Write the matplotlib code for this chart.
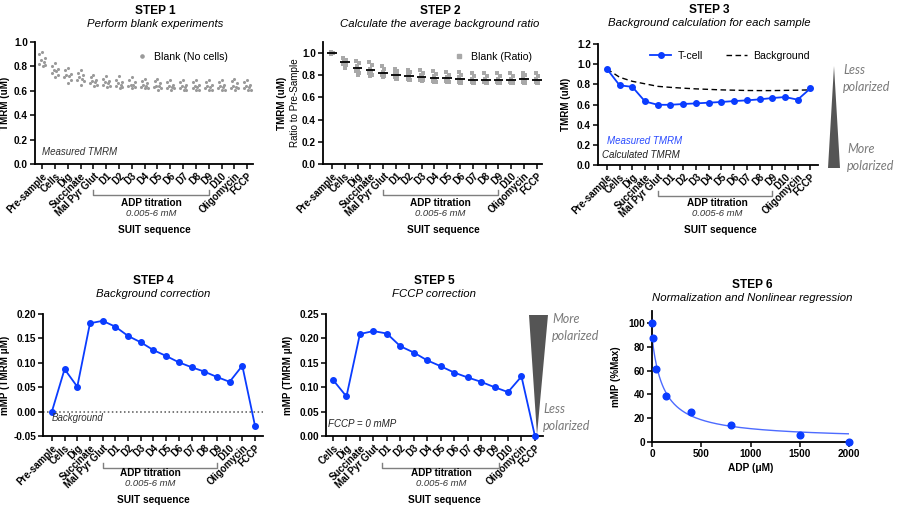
import matplotlib
matplotlib.use('Agg')
import matplotlib.pyplot as plt
import matplotlib.transforms as mtransforms
from matplotlib.patches import Polygon
from matplotlib.lines import Line2D
import numpy as np

plt.rcParams['font.family'] = ['Liberation Sans', 'DejaVu Sans']
plt.rcParams['axes.linewidth'] = 1.3

W, H = 900, 505

suit_full = ['Pre-sample', 'Cells', 'Dig', 'Succinate', 'Mal Pyr Glut',
             'D1', 'D2', 'D3', 'D4', 'D5', 'D6', 'D7', 'D8', 'D9', 'D10',
             'Oligomycin', 'FCCP']
suit_no_pre = suit_full[1:]

# step 1: blank wells, TMRM (uM), one list per SUIT step
blank_tmrm = [
    [0.92, 0.90, 0.87, 0.85, 0.84, 0.82, 0.81, 0.80],
    [0.83, 0.80, 0.78, 0.77, 0.76, 0.75, 0.73, 0.71],
    [0.79, 0.77, 0.74, 0.73, 0.72, 0.71, 0.69, 0.66],
    [0.77, 0.75, 0.73, 0.71, 0.70, 0.69, 0.68, 0.65],
    [0.73, 0.71, 0.69, 0.68, 0.67, 0.66, 0.65, 0.64],
    [0.72, 0.70, 0.68, 0.67, 0.66, 0.65, 0.64, 0.63],
    [0.72, 0.69, 0.67, 0.66, 0.65, 0.64, 0.63, 0.62],
    [0.71, 0.69, 0.67, 0.65, 0.65, 0.64, 0.63, 0.62],
    [0.70, 0.68, 0.66, 0.65, 0.64, 0.63, 0.62, 0.62],
    [0.70, 0.68, 0.66, 0.64, 0.64, 0.63, 0.62, 0.61],
    [0.69, 0.67, 0.65, 0.64, 0.63, 0.62, 0.62, 0.61],
    [0.69, 0.67, 0.65, 0.64, 0.63, 0.62, 0.61, 0.61],
    [0.69, 0.67, 0.65, 0.64, 0.63, 0.62, 0.61, 0.61],
    [0.69, 0.67, 0.65, 0.64, 0.63, 0.62, 0.61, 0.61],
    [0.69, 0.67, 0.65, 0.64, 0.63, 0.62, 0.61, 0.61],
    [0.70, 0.68, 0.66, 0.64, 0.63, 0.62, 0.62, 0.61],
    [0.69, 0.67, 0.65, 0.64, 0.63, 0.62, 0.61, 0.61],
]

# step 2: blank ratio to pre-sample
blank_ratio = [
    [1.01, 1.00, 1.00, 1.00, 0.99, 1.00, 1.00],
    [0.96, 0.94, 0.93, 0.92, 0.90, 0.89, 0.87],
    [0.93, 0.91, 0.88, 0.86, 0.84, 0.82, 0.80],
    [0.92, 0.89, 0.86, 0.84, 0.82, 0.80, 0.79],
    [0.88, 0.86, 0.83, 0.81, 0.80, 0.79, 0.78],
    [0.86, 0.84, 0.82, 0.80, 0.78, 0.77, 0.77],
    [0.85, 0.83, 0.81, 0.79, 0.77, 0.76, 0.76],
    [0.85, 0.82, 0.80, 0.78, 0.76, 0.76, 0.75],
    [0.84, 0.81, 0.79, 0.77, 0.75, 0.74, 0.74],
    [0.83, 0.80, 0.78, 0.76, 0.75, 0.74, 0.74],
    [0.83, 0.80, 0.78, 0.76, 0.74, 0.73, 0.73],
    [0.82, 0.79, 0.77, 0.75, 0.74, 0.73, 0.73],
    [0.82, 0.79, 0.77, 0.75, 0.74, 0.73, 0.73],
    [0.82, 0.79, 0.77, 0.75, 0.74, 0.73, 0.73],
    [0.82, 0.79, 0.77, 0.75, 0.74, 0.73, 0.73],
    [0.82, 0.80, 0.78, 0.76, 0.74, 0.73, 0.73],
    [0.82, 0.79, 0.77, 0.75, 0.74, 0.73, 0.73],
]

# step 3
tcell_tmrm = [0.953, 0.79, 0.775, 0.63, 0.597, 0.597, 0.605, 0.611, 0.618,
              0.625, 0.634, 0.641, 0.651, 0.664, 0.674, 0.648, 0.759]
background_tmrm = [0.953, 0.87, 0.83, 0.805, 0.78, 0.77, 0.762, 0.755, 0.75,
                   0.745, 0.742, 0.739, 0.738, 0.738, 0.74, 0.742, 0.745]

# step 4 / step 5
mmp_background = [0.0, 0.087, 0.051, 0.181, 0.186, 0.174, 0.155, 0.142, 0.126,
                  0.114, 0.101, 0.091, 0.082, 0.071, 0.061, 0.094, -0.029]
mmp_fccp = [0.115, 0.081, 0.209, 0.215, 0.210, 0.184, 0.171, 0.155, 0.143,
            0.130, 0.120, 0.111, 0.100, 0.090, 0.122, 0.0]

# step 6
adp_um = [0, 10, 45, 145, 400, 800, 1500, 2000]
mmp_pct_max = [100, 87, 61, 39, 25, 14, 5.5, 0]
fit_bottom, fit_top, fit_ic50 = 2.0, 88.0, 120.0

BLUE = '#0a3cff'
fig = plt.figure(figsize=(9, 5.05), dpi=100)


def add_ax(left, top, right, bottom):
    return fig.add_axes([left / W, 1 - bottom / H, (right - left) / W, (bottom - top) / H])


def ftext(x, y, s, **kw):
    kw.setdefault('ha', 'center')
    kw.setdefault('va', 'center')
    fig.text(x / W, 1 - y / H, s, **kw)


def style(ax, yticks, fmt):
    for s in ['top', 'right']:
        ax.spines[s].set_visible(False)
    ax.tick_params(direction='out', length=3.5, width=1.1, labelsize=7.2, pad=1.5)
    ax.set_yticks(yticks)
    ax.set_yticklabels([fmt % v for v in yticks], fontweight='bold')


def suit_axis(ax, labels):
    ax.set_xticks(range(len(labels)))
    ax.set_xticklabels(labels, rotation=45, ha='right', va='top',
                       rotation_mode='anchor', fontweight='bold', fontsize=6.9)


def bracket(ax, x0, x1, y, dy):
    tr = mtransforms.blended_transform_factory(ax.transData, ax.transAxes)
    ax.add_line(Line2D([x0, x0, x1, x1], [y + dy, y, y, y + dy], transform=tr,
                       color='#7f7f7f', lw=1.0, clip_on=False))


def title(x, y, t, sub):
    ftext(x, y, t, fontsize=8.6, fontweight='bold')
    ftext(x, y + 13, sub, fontsize=8.2, style='italic')


def suit_labels(xc, y):
    ftext(xc, y, 'ADP titration', fontsize=7.2, fontweight='bold')
    ftext(xc, y + 11, '0.005-6 mM', fontsize=6.8, style='italic', color='#333333')
    ftext(xc + 3, y + 27, 'SUIT sequence', fontsize=7.3, fontweight='bold')


def triangle(pts, color='#555555'):
    p = [(x / W, 1 - y / H) for x, y in pts]
    fig.add_artist(Polygon(p, closed=True, transform=fig.transFigure,
                           facecolor=color, edgecolor='none'))


tri_font = dict(family=['Lato', 'DejaVu Sans'], style='italic', fontsize=9,
                color='#7a7a7a', ha='left')

# ---------------- STEP 1
ax1 = add_ax(35, 42, 253, 164)
swarm = [0.0, -0.22, 0.22, -0.1, 0.12, -0.26, 0.26, 0.04]
for i, vals in enumerate(blank_tmrm):
    xs = [i + swarm[j % len(swarm)] for j in range(len(vals))]
    ax1.scatter(xs, vals, s=5, color='#9a9a9a', linewidths=0, zorder=3)
ax1.set_xlim(-0.55, 16.45)
ax1.set_ylim(0, 1.0)
style(ax1, np.arange(0, 1.01, 0.2), '%.1f')
suit_axis(ax1, suit_full)
ax1.set_ylabel('TMRM (uM)', fontsize=7.1, fontweight='bold')
ax1.yaxis.set_label_coords((10 - 35) / 218, 0.5)
ax1.legend(handles=[Line2D([], [], ls='none', marker='o', ms=2.3, color='#9a9a9a',
                           label='Blank (No cells)')],
           loc='upper right', bbox_to_anchor=(0.93, 1.0), frameon=False,
           fontsize=7.6, handletextpad=0.6, handlelength=1.2)
ax1.text(0.03, 0.07, 'Measured TMRM', transform=ax1.transAxes, fontsize=7,
         style='italic', color='#333333')
bracket(ax1, 4, 13, -0.254, 0.04)
title(155, 11, 'STEP 1', 'Perform blank experiments')
suit_labels(151, 203)

# ---------------- STEP 2
ax2 = add_ax(323, 42, 542, 164)
jit = [-0.1, 0.1, -0.05, 0.05, -0.1, 0.1, 0.0]
for i, vals in enumerate(blank_ratio):
    xs = [i + jit[j % len(jit)] for j in range(len(vals))]
    ax2.scatter(xs, vals, s=9, marker='s', color='#a8a8a8', linewidths=0, zorder=2)
    m = np.mean(vals)
    ax2.hlines(m, i - 0.38, i + 0.38, color='black', lw=1.3, zorder=3)
ax2.set_xlim(-0.7, 16.4)
ax2.set_ylim(0, 1.1)
style(ax2, np.arange(0, 1.01, 0.2), '%.1f')
suit_axis(ax2, suit_full)
ftext(282, 103, 'TMRM (uM)', rotation=90, fontsize=7.1, fontweight='bold')
ftext(295, 103, 'Ratio to Pre-Sample', rotation=90, fontsize=7.1)
ax2.legend(handles=[Line2D([], [], ls='none', marker='s', ms=3.2, color='#a8a8a8',
                           label='Blank (Ratio)')],
           loc='upper right', bbox_to_anchor=(1.0, 1.0), frameon=False,
           fontsize=7.6, handletextpad=0.6, handlelength=1.2)
bracket(ax2, 4, 13, -0.254, 0.04)
title(440, 11, 'STEP 2', 'Calculate the average background ratio')
suit_labels(440, 203)

# ---------------- STEP 3
ax3 = add_ax(598, 44, 818, 165)
ax3.plot(range(len(background_tmrm)), background_tmrm, ls='--', color='black',
         lw=1.0, dashes=(4, 2.5), label='Background', zorder=2)
ax3.plot(range(len(tcell_tmrm)), tcell_tmrm, color=BLUE, lw=1.3, marker='o',
         ms=4, label='T-cell', zorder=3, clip_on=False)
ax3.set_xlim(-0.7, 16.6)
ax3.set_ylim(0, 1.2)
style(ax3, np.arange(0, 1.21, 0.2), '%.1f')
suit_axis(ax3, suit_full)
ax3.set_ylabel('TMRM (uM)', fontsize=7.1, fontweight='bold')
ax3.yaxis.set_label_coords((571 - 598) / 220, 0.5)
h, l = ax3.get_legend_handles_labels()
ax3.legend(h[::-1], l[::-1], loc='upper center', bbox_to_anchor=(0.6, 1.02), ncol=2,
           frameon=False, fontsize=7.6, handlelength=2.0, columnspacing=2.2,
           handletextpad=0.6)
ax3.text(0.04, 0.17, 'Measured TMRM', transform=ax3.transAxes, fontsize=7,
         style='italic', color='#2a4bff')
ax3.text(0.02, 0.06, 'Calculated TMRM', transform=ax3.transAxes, fontsize=7,
         style='italic', color='#222222')
bracket(ax3, 4, 13, -0.254, 0.04)
triangle([(828, 168), (840, 168), (834, 66)])
ftext(843, 70, 'Less', **tri_font)
ftext(843, 87, 'polarized', **tri_font)
ftext(847, 149, 'More', **tri_font)
ftext(847, 166, 'polarized', **tri_font)
title(709, 10, 'STEP 3', 'Background calculation for each sample')
suit_labels(717, 203)

# ---------------- STEP 4
ax4 = add_ax(43, 314, 263, 436)
ax4.axhline(0, ls=':', color='#555555', lw=1.1, zorder=1)
ax4.plot(range(len(mmp_background)), mmp_background, color=BLUE, lw=1.3,
         marker='o', ms=4, zorder=3, clip_on=False)
ax4.set_xlim(-0.7, 16.63)
ax4.set_ylim(-0.05, 0.20)
style(ax4, np.arange(-0.05, 0.201, 0.05), '%.2f')
suit_axis(ax4, suit_full)
ax4.set_ylabel('mMP (TMRM \u03bcM)', fontsize=7.1, fontweight='bold')
ax4.yaxis.set_label_coords((10 - 43) / 220, 0.5)
ax4.text(0.04, 0.125, 'Background', transform=ax4.transAxes, fontsize=7,
         style='italic', color='#333333')
bracket(ax4, 4, 13, -0.262, 0.04)
title(153, 281, 'STEP 4', 'Background correction')
suit_labels(150, 473)

# ---------------- STEP 5
ax5 = add_ax(326, 314, 543, 436)
ax5.plot(range(len(mmp_fccp)), mmp_fccp, color=BLUE, lw=1.3, marker='o', ms=4,
         zorder=3, clip_on=False)
ax5.set_xlim(-0.52, 15.6)
ax5.set_ylim(0, 0.25)
style(ax5, np.arange(0, 0.251, 0.05), '%.2f')
suit_axis(ax5, suit_no_pre)
ax5.set_ylabel('mMP (TMRM \u03bcM)', fontsize=7.1, fontweight='bold')
ax5.yaxis.set_label_coords((293 - 326) / 217, 0.5)
ax5.text(0.01, 0.07, 'FCCP = 0 mMP', transform=ax5.transAxes, fontsize=7,
         style='italic', color='#222222')
bracket(ax5, 3.65, 12.3, -0.262, 0.04)
triangle([(529, 315), (548, 315), (537, 435)])
ftext(552, 319, 'More', **tri_font)
ftext(552, 336, 'polarized', **tri_font)
ftext(543, 409, 'Less', **tri_font)
ftext(543, 426, 'polarized', **tri_font)
title(434, 281, 'STEP 5', 'FCCP correction')
suit_labels(441, 473)

# ---------------- STEP 6
ax6 = add_ax(652, 311, 849, 442)
xfit = np.linspace(0, 2000, 400)
ax6.plot(xfit, fit_bottom + (fit_top - fit_bottom) / (1 + xfit / fit_ic50),
         color='#4d6bff', lw=1.0, zorder=2)
ax6.plot(adp_um, mmp_pct_max, ls='none', marker='o', ms=4.8, color=BLUE,
         zorder=3, clip_on=False)
ax6.set_xlim(0, 2000)
ax6.set_ylim(0, 110)
style(ax6, np.arange(0, 101, 20), '%d')
ax6.set_xticks([0, 500, 1000, 1500, 2000])
ax6.set_xticklabels(['0', '500', '1000', '1500', '2000'], fontweight='bold')
ax6.set_ylabel('mMP (%Max)', fontsize=7.1, fontweight='bold')
ax6.yaxis.set_label_coords((621 - 652) / 197, 0.5)
ax6.set_xlabel('ADP (\u03bcM)', fontsize=7.3, fontweight='bold', labelpad=3)
title(752, 285, 'STEP 6', 'Normalization and Nonlinear regression')

fig.savefig('out.png', dpi=100)
